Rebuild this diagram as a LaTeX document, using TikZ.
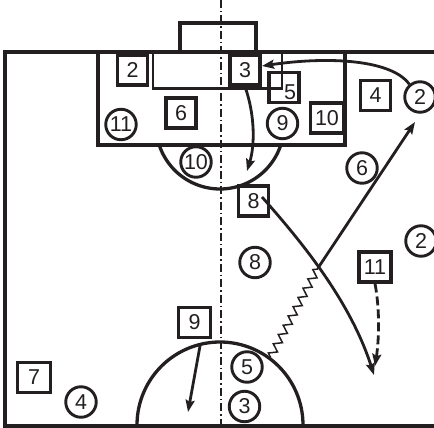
\documentclass[tikz,border=0pt]{standalone}
\usepackage{fontspec}
\setmainfont{Liberation Sans}
\usetikzlibrary{arrows.meta,decorations.pathmorphing,calc}
\definecolor{ink}{HTML}{231F20}
\begin{document}
\begin{tikzpicture}[x=1pt,y=-1pt,
  num/.style={font=\fontsize{21.5}{21.5}\selectfont,text=ink},
  sq/.style={num,draw=ink,line width=3.2pt,minimum width=30pt,minimum height=30pt,inner sep=0pt},
  pl/.style={num,circle,draw=ink,line width=2.9pt,minimum size=30.5pt,inner sep=0pt},
  court/.style={draw=ink,line width=4pt,line join=miter},
  area/.style={draw=ink,line width=3.3pt,line join=miter},
  thin/.style={draw=ink,line width=2.4pt,line join=miter},
  axis/.style={draw=ink,line width=1.4pt,dash pattern=on 8pt off 3pt on 1.5pt off 3pt},
  arr/.style={draw=ink,line width=2.8pt,-{Stealth[length=12pt,width=9pt,inset=2pt]}},
  dasharr/.style={arr,dash pattern=on 9pt off 4pt},
  dribble/.style={draw=ink,line width=1.5pt,decorate,decoration={zigzag,segment length=10.5pt,amplitude=3.8pt,pre length=1pt,post length=1pt}}
]
\useasboundingbox (0,0) rectangle (434,428);
% court
\draw[court] (434,52.5) -- (5,52.5) -- (5,428);
\draw[court] (5,425.5) -- (434,425.5);
% goal
\draw[area] (180,23) rectangle (256,52.5);
% goal area
\draw[area] (98,52.5) rectangle (345,145);
\draw[thin] (153,52.5) rectangle (282,88.5);
% arcs
\draw[area] plot[domain=18:162,samples=60] ({220+64*cos(\x)},{125+64*sin(\x)});
\draw[area] plot[domain=0:180,samples=80] ({220+83*cos(\x)},{425-83*sin(\x)});
% centre line
\draw[axis] (221,0) -- (221,425);
% squares
\node[sq] (s2) at (132.5,70) {2};
\node[sq] (s3) at (245,70) {3};
\node[sq] (s5) at (284,87.5) {};
\node[num] (s5t) at (290,92) {5};
\node[sq] (s6) at (181,113) {6};
\node[sq,minimum width=33pt] (s10) at (327,118) {10};
\node[sq] (s4) at (375.5,95.5) {4};
\node[sq] (s8) at (253.5,201) {8};
\node[sq,minimum width=32pt] (s11) at (375,267) {11};
\node[sq,minimum width=32pt] (s9) at (194.5,322.5) {9};
\node[sq,minimum width=33pt] (s7) at (34,377.5) {7};
% circles
\node[pl] (c11) at (121,124.5) {11};
\node[pl] (c10) at (196,162) {10};
\node[pl] (c9) at (282.5,123.5) {9};
\node[pl] (c2a) at (420,97) {2};
\node[pl] (c6) at (362,168) {6};
\node[pl] (c2b) at (421,241) {2};
\node[pl] (c8) at (255,262.5) {8};
\node[pl] (c5) at (247,367) {5};
\node[pl] (c3) at (244.5,406.5) {3};
\node[pl] (c4) at (81,402) {4};
% free ends
\coordinate (t3) at (262,66);
\coordinate (t3b) at (247,171);
\coordinate (p8) at (262,197);
\coordinate (j) at (318,268);
\coordinate (z0) at (270,358);
\coordinate (t2) at (415,122);
\coordinate (tc) at (374,375);
\coordinate (t11) at (375,366);
\coordinate (p9) at (200,346);
\coordinate (t9) at (188,412);
% movements
\draw[arr] (c2a.130) .. controls (392,60) and (330,56) .. (t3);
\draw[arr] (s3.south) .. controls (255,115) and (255,145) .. (t3b);
\draw[arr] (p8) .. controls (300,240) and (350,300) .. (tc);
\draw[dribble] (z0) -- (j);
\draw[arr] (j) -- (t2);
\draw[dasharr] (s11.south) .. controls (380,310) and (379,340) .. (t11);
\draw[arr] (p9) -- (t9);
\end{tikzpicture}
\end{document}
